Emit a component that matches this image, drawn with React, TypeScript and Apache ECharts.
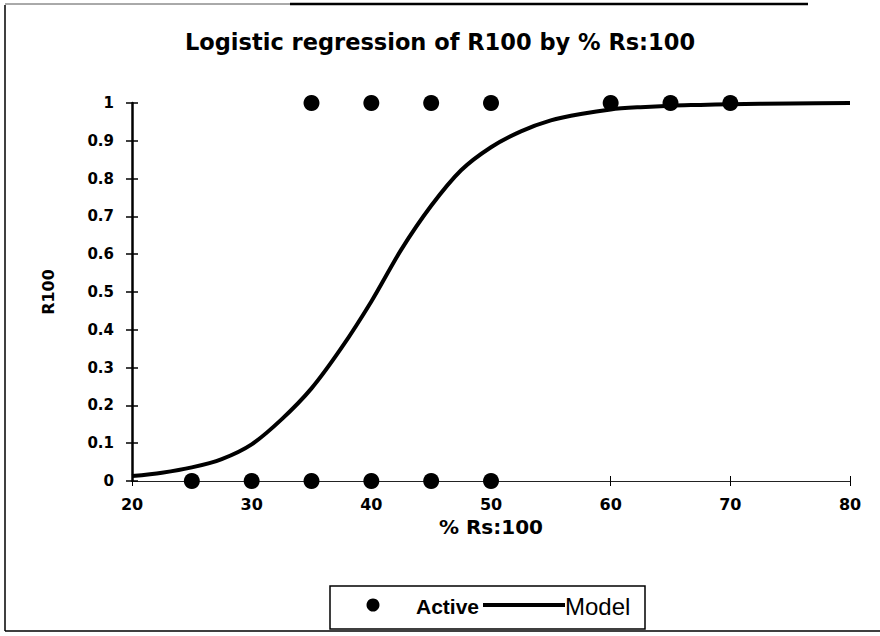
import React, { useEffect, useRef } from "react";
import * as echarts from "echarts";

const titleText = "Logistic regression of R100 by % Rs:100";
const xName = "% Rs:100";
const yName = "R100";
const legendNames = ["Active", "Model"];

const activeX = [35, 40, 45, 50, 60, 65, 70, 25, 30, 35, 40, 45, 50];
const activeY = [1, 1, 1, 1, 1, 1, 1, 0, 0, 0, 0, 0, 0];

const modelX = [20, 22.5, 25, 27.5, 30, 32.5, 35, 37.5, 40, 42.5, 45, 47.5, 50, 52.5, 55, 57.5, 60, 62.5, 65, 67.5, 70, 75, 80];
const modelY = [0.013, 0.022, 0.036, 0.058, 0.097, 0.163, 0.245, 0.352, 0.475, 0.612, 0.728, 0.822, 0.883, 0.925, 0.954, 0.971, 0.983, 0.989, 0.993, 0.995, 0.997, 0.999, 1.0];

const FONT = "'DejaVu Sans', sans-serif";
const LFONT = "'Liberation Sans', Arial, sans-serif";

export default function App() {
  const ref = useRef<HTMLDivElement>(null);
  useEffect(() => {
    if (!ref.current) return;
    const chart = echarts.init(ref.current, null, { renderer: "svg" });
    const axisLabelStyle = { color: "#000", fontWeight: "bold", fontSize: 15, fontFamily: FONT };
    chart.setOption({
      animation: false,
      backgroundColor: "#fff",
      title: {
        text: titleText,
        left: "center",
        top: 25,
        textStyle: { color: "#000", fontWeight: "bold", fontSize: 22.5, fontFamily: FONT },
      },
      grid: { left: 132, right: 30, top: 103, bottom: 155 },
      xAxis: [
        {
          type: "value",
          min: 20,
          max: 80,
          interval: 10,
          name: xName,
          nameLocation: "middle",
          nameGap: 32,
          nameTextStyle: { color: "#000", fontWeight: "bold", fontSize: 20, fontFamily: FONT },
          axisLine: { lineStyle: { color: "#222", width: 1.2 } },
          axisTick: { show: true, length: 5, lineStyle: { color: "#000" } },
          axisLabel: { ...axisLabelStyle, fontSize: 16, margin: 15 },
          splitLine: { show: false },
        },
        {
          type: "value",
          min: 20,
          max: 80,
          interval: 10,
          position: "bottom",
          axisLine: { show: false },
          axisTick: { show: true, inside: true, length: 5, lineStyle: { color: "#000" } },
          axisLabel: { show: false },
          splitLine: { show: false },
        },
      ],
      yAxis: [
        {
          type: "value",
          min: 0,
          max: 1,
          interval: 0.1,
          name: yName,
          nameLocation: "middle",
          nameGap: 76,
          nameRotate: 90,
          nameTextStyle: { color: "#000", fontWeight: "bold", fontSize: 16, fontFamily: FONT },
          axisLine: { show: true, lineStyle: { color: "#000", width: 2.5 } },
          axisTick: { show: true, length: 6, lineStyle: { color: "#000", width: 1.5 } },
          axisLabel: { ...axisLabelStyle, margin: 18 },
          splitLine: { show: false },
        },
        {
          type: "value",
          min: 0,
          max: 1,
          interval: 0.1,
          position: "left",
          axisLine: { show: false },
          axisTick: { show: true, inside: true, length: 6, lineStyle: { color: "#000", width: 1.5 } },
          axisLabel: { show: false },
          splitLine: { show: false },
        },
      ],
      series: [
        {
          name: legendNames[0],
          type: "scatter",
          symbol: "circle",
          symbolSize: 16,
          z: 5,
          itemStyle: { color: "#000", opacity: 1 },
          data: activeX.map((x, i) => [x, activeY[i]]),
        },
        {
          name: legendNames[1],
          type: "line",
          smooth: 0.3,
          showSymbol: false,
          symbol: "none",
          z: 3,
          lineStyle: { color: "#000", width: 4 },
          itemStyle: { color: "#000" },
          data: modelX.map((x, i) => [x, modelY[i]]),
        },
      ],
      graphic: [
        { type: "line", shape: { x1: 5, y1: 5, x2: 5, y2: 631 }, style: { stroke: "#000", lineWidth: 1.5 } },
        { type: "line", shape: { x1: 5, y1: 631, x2: 880, y2: 631 }, style: { stroke: "#000", lineWidth: 1.5 } },
        { type: "line", shape: { x1: 5, y1: 4, x2: 290, y2: 4 }, style: { stroke: "#555", lineWidth: 1 } },
        { type: "line", shape: { x1: 290, y1: 4, x2: 808, y2: 4 }, style: { stroke: "#000", lineWidth: 2.5 } },
        {
          type: "group",
          children: [
            { type: "rect", shape: { x: 330, y: 586, width: 315, height: 43 }, style: { fill: "#fff", stroke: "#000", lineWidth: 1.5 } },
            { type: "circle", shape: { cx: 373, cy: 605, r: 6.5 }, style: { fill: "#000" } },
            {
              type: "text",
              x: 416,
              y: 606,
              style: {
                text: legendNames[0],
                fill: "#000",
                fontSize: 21,
                fontWeight: "bold",
                fontFamily: LFONT,
                verticalAlign: "middle",
                align: "left",
              },
            },
            { type: "line", shape: { x1: 483, y1: 605, x2: 565, y2: 605 }, style: { stroke: "#000", lineWidth: 4 } },
            {
              type: "text",
              x: 565,
              y: 606,
              style: {
                text: legendNames[1],
                fill: "#000",
                fontSize: 24,
                fontWeight: "normal",
                fontFamily: LFONT,
                verticalAlign: "middle",
                align: "left",
              },
            },
          ],
        },
      ],
    });
    return () => chart.dispose();
  }, []);
  return <div ref={ref} style={{ width: 880, height: 636, position: "absolute", left: 0, top: 0 }} />;
}
